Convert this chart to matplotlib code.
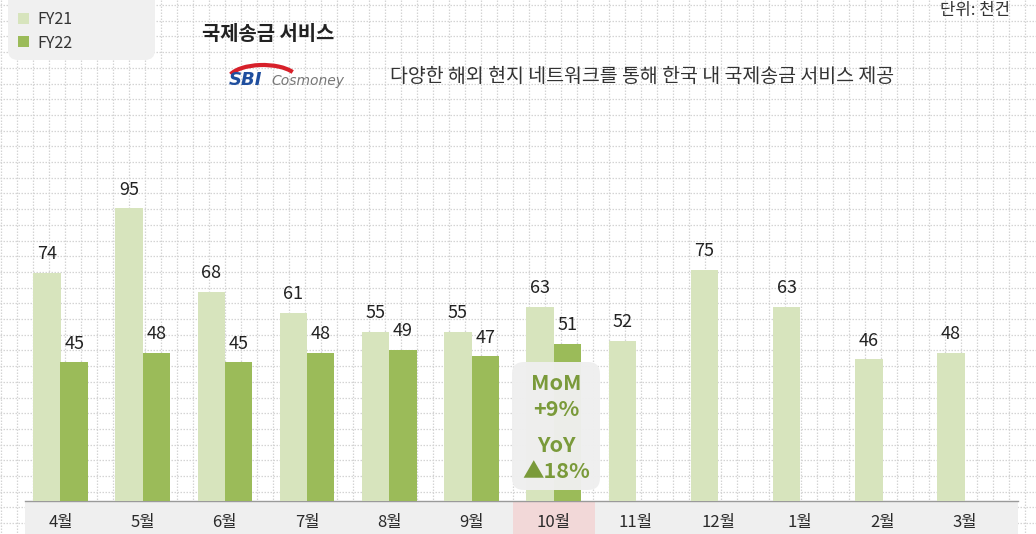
import matplotlib
matplotlib.use("Agg")
import matplotlib.pyplot as plt
from matplotlib.patches import FancyBboxPatch, Rectangle, Arc
import numpy as np

plt.rcParams['font.family'] = ['Noto Sans CJK KR', 'DejaVu Sans']

months = ['4월', '5월', '6월', '7월', '8월', '9월', '10월', '11월', '12월', '1월', '2월', '3월']
fy21 = [74, 95, 68, 61, 55, 55, 63, 52, 75, 63, 46, 48]
fy22 = [45, 48, 45, 48, 49, 47, 51]
series_names = ['FY21', 'FY22']
highlight = '10월'
callout_lines = ['MoM', '+9%', 'YoY', '▲18%']

c21 = '#d7e4bd'
c22 = '#9bbb59'
W, H = 1036, 534
x0, step = 60.5, 82.2   # pixel centre of first group, group spacing

fig = plt.figure(figsize=(W / 100, H / 100), dpi=100)

# background dotted grid over the whole figure, pixel coords
bg = fig.add_axes([0, 0, 1, 1])
bg.set_xlim(0, W)
bg.set_ylim(H, 0)
bg.axis('off')
bg.vlines(np.arange(1, W, 16), 0, H, colors='#d4d4d4', lw=0.9, linestyles=(0, (1.2, 1.2)))
bg.hlines(np.arange(5, H, 15.7), 0, W, colors='#d4d4d4', lw=0.9, linestyles=(0, (1.2, 1.2)))

# bottom band and legend box
bg.add_patch(Rectangle((25, 501), 993, 33, fc='#efefef', ec='none', zorder=2))
hi = months.index(highlight)
bg.add_patch(Rectangle((x0 + step * (hi - 0.5), 501), step, 33, fc='#f2d8d8', ec='none', zorder=2))
bg.plot([25, 1018], [501, 501], color='#9a9a9a', lw=1, zorder=3)
bg.add_patch(FancyBboxPatch((8, -10), 147, 70, boxstyle='round,pad=0,rounding_size=10',
                            fc='#f0f0f0', ec='none', zorder=2))
bg.add_patch(Rectangle((18, 13), 11, 11, fc=c21, ec='none', zorder=3))
bg.add_patch(Rectangle((18, 36), 11, 11, fc=c22, ec='none', zorder=3))
bg.text(37, 19, series_names[0], fontsize=11.5, color='#333333', va='center', zorder=3)
bg.text(37, 43, series_names[1], fontsize=11.5, color='#333333', va='center', zorder=3)

# titles
bg.text(202, 33, '국제송금 서비스', fontsize=14.3, color='#222222', va='center', fontweight='bold')
bg.text(1010, 10, '단위: 천건', fontsize=12, color='#333333', va='center', ha='right')
bg.text(390, 77, '다양한 해외 현지 네트워크를 통해 한국 내 국제송금 서비스 제공',
        fontsize=14, color='#333333', va='center')

# logo
bg.add_patch(Arc((263, 80), 70, 30, theta1=190, theta2=345, color='#d7202a', lw=3, zorder=3))
bg.text(229, 80, 'SBI', fontsize=13, color='#1f4e9e', fontweight='bold', style='italic',
        va='center', family='DejaVu Sans', zorder=4)
bg.text(271, 81, 'Cosmoney', fontsize=10, color='#777777', style='italic', va='center',
        family='DejaVu Sans', zorder=4)

# main chart
ax = fig.add_axes([25 / W, (H - 501) / H, 993 / W, 501 / H])
ax.set_facecolor('none')
ax.set_xlim((25 - x0) / step, (1018 - x0) / step)
ax.set_ylim(0, 501 / 3.08)
for s in ax.spines.values():
    s.set_visible(False)
ax.set_yticks([])
ax.set_xticks(range(len(months)))
ax.set_xticklabels(months, fontsize=12, color='#2a2a2a', fontweight='medium')
ax.tick_params(axis='x', length=0, pad=9)

x = np.arange(len(months))
bw = 0.333
b1 = ax.bar(x - bw / 2, fy21, bw, color=c21, zorder=2)
b2 = ax.bar(x[:len(fy22)] + bw / 2, fy22, bw, color=c22, zorder=2)
for bars, vals in ((b1, fy21), (b2, fy22)):
    for b, v in zip(bars, vals):
        ax.annotate(str(v), (b.get_x() + b.get_width() / 2, v), xytext=(0, 7),
                    textcoords='offset points', ha='center', va='bottom',
                    fontsize=13, color='#222222', zorder=3)

# callout box on top of the bars
top = fig.add_axes([0, 0, 1, 1])
top.set_xlim(0, W)
top.set_ylim(H, 0)
top.axis('off')
top.add_patch(FancyBboxPatch((512, 362), 88, 128, boxstyle='round,pad=0,rounding_size=12',
                             fc='#efefef', ec='none', alpha=0.97))
gy = [383, 409, 445, 471]
for t, yy in zip(callout_lines, gy):
    top.text(556, yy, t, fontsize=15.5, color='#7a9a3a', fontweight='bold',
             ha='center', va='center')

fig.savefig('out.png', dpi=100)
